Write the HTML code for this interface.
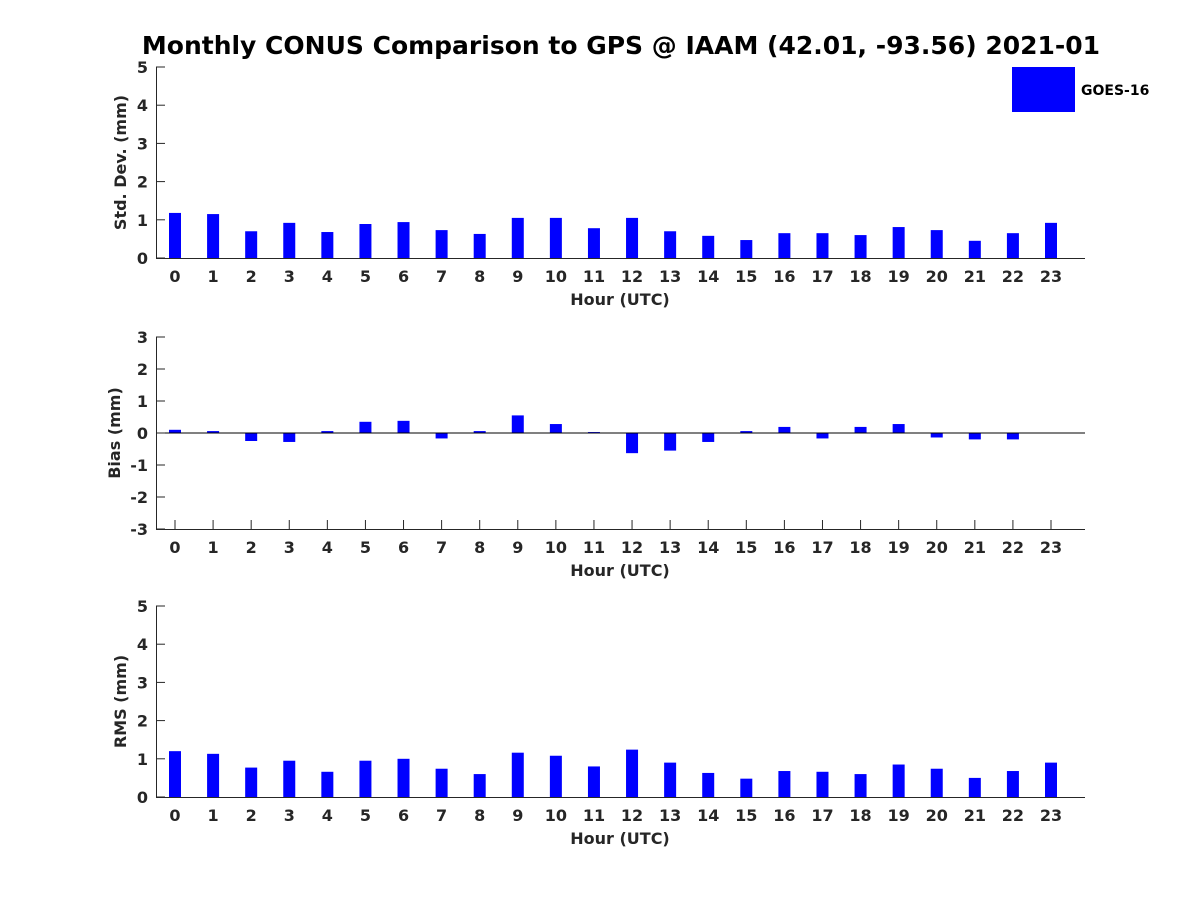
<!DOCTYPE html>
<html><head><meta charset="utf-8"><style>
body{margin:0;background:#fff}
svg{display:block;font-family:"DejaVu Sans","Liberation Sans",sans-serif;font-weight:bold}
</style></head><body>
<svg id="c" width="1200" height="900">
<text x="621" y="54" text-anchor="middle" font-size="25" fill="#000">Monthly CONUS Comparison to GPS @ IAAM (42.01, -93.56) 2021-01</text>
<g>
<rect x="1012" y="67" width="63" height="45" fill="#0000ff"/>
<text x="1081" y="95" font-size="14" fill="#000">GOES-16</text>
</g>
</svg>
<script>
const hours=[0,1,2,3,4,5,6,7,8,9,10,11,12,13,14,15,16,17,18,19,20,21,22,23];
const stdValues=[1.18,1.15,0.7,0.92,0.68,0.89,0.94,0.73,0.63,1.05,1.05,0.78,1.05,0.7,0.58,0.47,0.65,0.65,0.6,0.81,0.73,0.45,0.65,0.92];
const biasValues=[0.1,0.06,-0.25,-0.28,0.06,0.35,0.38,-0.17,0.06,0.55,0.28,0.03,-0.63,-0.55,-0.28,0.06,0.19,-0.17,0.19,0.28,-0.14,-0.2,-0.2,0];
const rmsValues=[1.2,1.13,0.77,0.95,0.66,0.95,1.0,0.74,0.6,1.16,1.08,0.8,1.24,0.9,0.63,0.48,0.68,0.66,0.6,0.85,0.74,0.5,0.68,0.9];
const stdTicks=[0,1,2,3,4,5];
const biasTicks=[-3,-2,-1,0,1,2,3];
const rmsTicks=[0,1,2,3,4,5];
const NS='http://www.w3.org/2000/svg';
const svg=document.getElementById('c');
function mk(tag,attrs,parent){const e=document.createElementNS(NS,tag);for(const k in attrs)e.setAttribute(k,attrs[k]);(parent||svg).appendChild(e);return e;}
const xs=h=>175+h*(1051-175)/23;
function panel(name,top,bottom,ymin,ymax,ticks,vals,ylabel,ylx){
  const g=mk('g',{});
  
  
  const ys=v=>bottom-(v-ymin)/(ymax-ymin)*(bottom-top);
  const y0=ys(Math.max(ymin,0));
  hours.forEach(h=>{
    mk('line',{x1:xs(h),x2:xs(h),y1:bottom,y2:bottom-9,stroke:'#262626'},g);
  });
  hours.forEach((h,i)=>{
    const v=vals[i];const y=ys(v);
    const r=mk('rect',{x:xs(h)-6,y:Math.min(y,y0),width:12,height:Math.abs(y-y0),fill:'#0000ff'},g);
    
    
  });
  if(ymin<0){mk('line',{x1:156,x2:1085,y1:y0,y2:y0,stroke:'#000','stroke-width':1},g);}
  mk('line',{x1:156.5,x2:156.5,y1:top,y2:bottom,stroke:'#262626'},g);
  mk('line',{x1:156,x2:1085,y1:bottom+0.5,y2:bottom+0.5,stroke:'#262626'},g);
  ticks.forEach(t=>{
    const y=ys(t);
    mk('line',{x1:156,x2:165,y1:y,y2:y,stroke:'#262626'},g);
    const tx=mk('text',{x:148,y:y+6,'text-anchor':'end','font-size':16,fill:'#262626'},g);
    tx.textContent=t;
    
    
  });
  hours.forEach(h=>{
    const tx=mk('text',{x:xs(h),y:bottom+24,'text-anchor':'middle','font-size':16,fill:'#262626'},g);
    tx.textContent=h;
    
    
  });
  const xl=mk('text',{x:620,y:bottom+47,'text-anchor':'middle','font-size':16,fill:'#262626'},g);
  xl.textContent='Hour (UTC)';
  
  
  const cy=(top+bottom)/2;
  const yl=mk('text',{x:ylx,y:cy,'text-anchor':'middle','font-size':16,fill:'#262626',transform:`rotate(-90 ${ylx} ${cy})`},g);
  yl.textContent=ylabel;
  
  
}
panel('std',67,258,0,5,stdTicks,stdValues,'Std. Dev. (mm)',126);
panel('bias',337,529,-3,3,biasTicks,biasValues,'Bias (mm)',120);
panel('rms',606,797,0,5,rmsTicks,rmsValues,'RMS (mm)',126);
</script>
</body></html>
